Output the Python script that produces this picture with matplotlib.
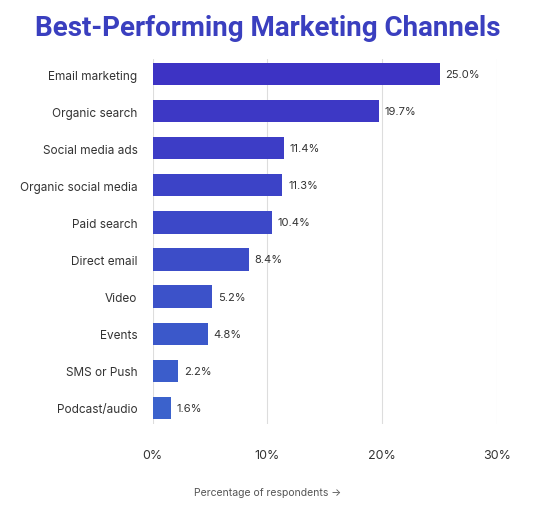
import matplotlib
matplotlib.use("Agg")
import matplotlib.pyplot as plt
import matplotlib.colors as mc
import numpy as np

categories = ["Email marketing","Organic search","Social media ads","Organic social media",
              "Paid search","Direct email","Video","Events","SMS or Push","Podcast/audio"]
values = [25.0,19.7,11.4,11.3,10.4,8.4,5.2,4.8,2.2,1.6]
ticks = [0,10,20,30]

plt.rcParams['font.family'] = ['Inter','DejaVu Sans']
fig = plt.figure(figsize=(5.36,5.10), dpi=100)
ax = fig.add_axes([0.285,0.167,0.642,0.715])
c1 = np.array(mc.to_rgb("#3d33c4")); c2 = np.array(mc.to_rgb("#3b62cc"))
n = len(values)
cols = [tuple(c1+(c2-c1)*i/(n-1)) for i in range(n)]
y = np.arange(n)
ax.barh(y, values, height=0.6, color=cols, zorder=3)
for yi,v in zip(y,values):
    ax.text(v+0.5, yi, f"{v:.1f}%", va='center', ha='left', fontsize=8, color='#333333')
ax.set_yticks(y); ax.set_yticklabels(categories, fontsize=8.5, color='#333333')
ax.set_xticks(ticks); ax.set_xticklabels([f"{t}%" for t in ticks], fontsize=9, color='#333333')
ax.set_xlim(0,30); ax.set_ylim(9.43,-0.4)
ax.grid(axis='x', color='#dddddd', lw=0.8, zorder=0)
for s in ax.spines.values(): s.set_visible(False)
ax.tick_params(length=0)
ax.tick_params(axis='x', pad=18)
ax.tick_params(axis='y', pad=11)
fig.text(0.5,0.028,"Percentage of respondents →", ha='center', fontsize=7.5, color='#555555')
fig.text(0.5,0.93,"Best-Performing Marketing Channels", ha='center', fontsize=20, fontweight='bold', color='#3a3fbf', family=['Roboto','DejaVu Sans'])
fig.savefig("out.png", dpi=100)
